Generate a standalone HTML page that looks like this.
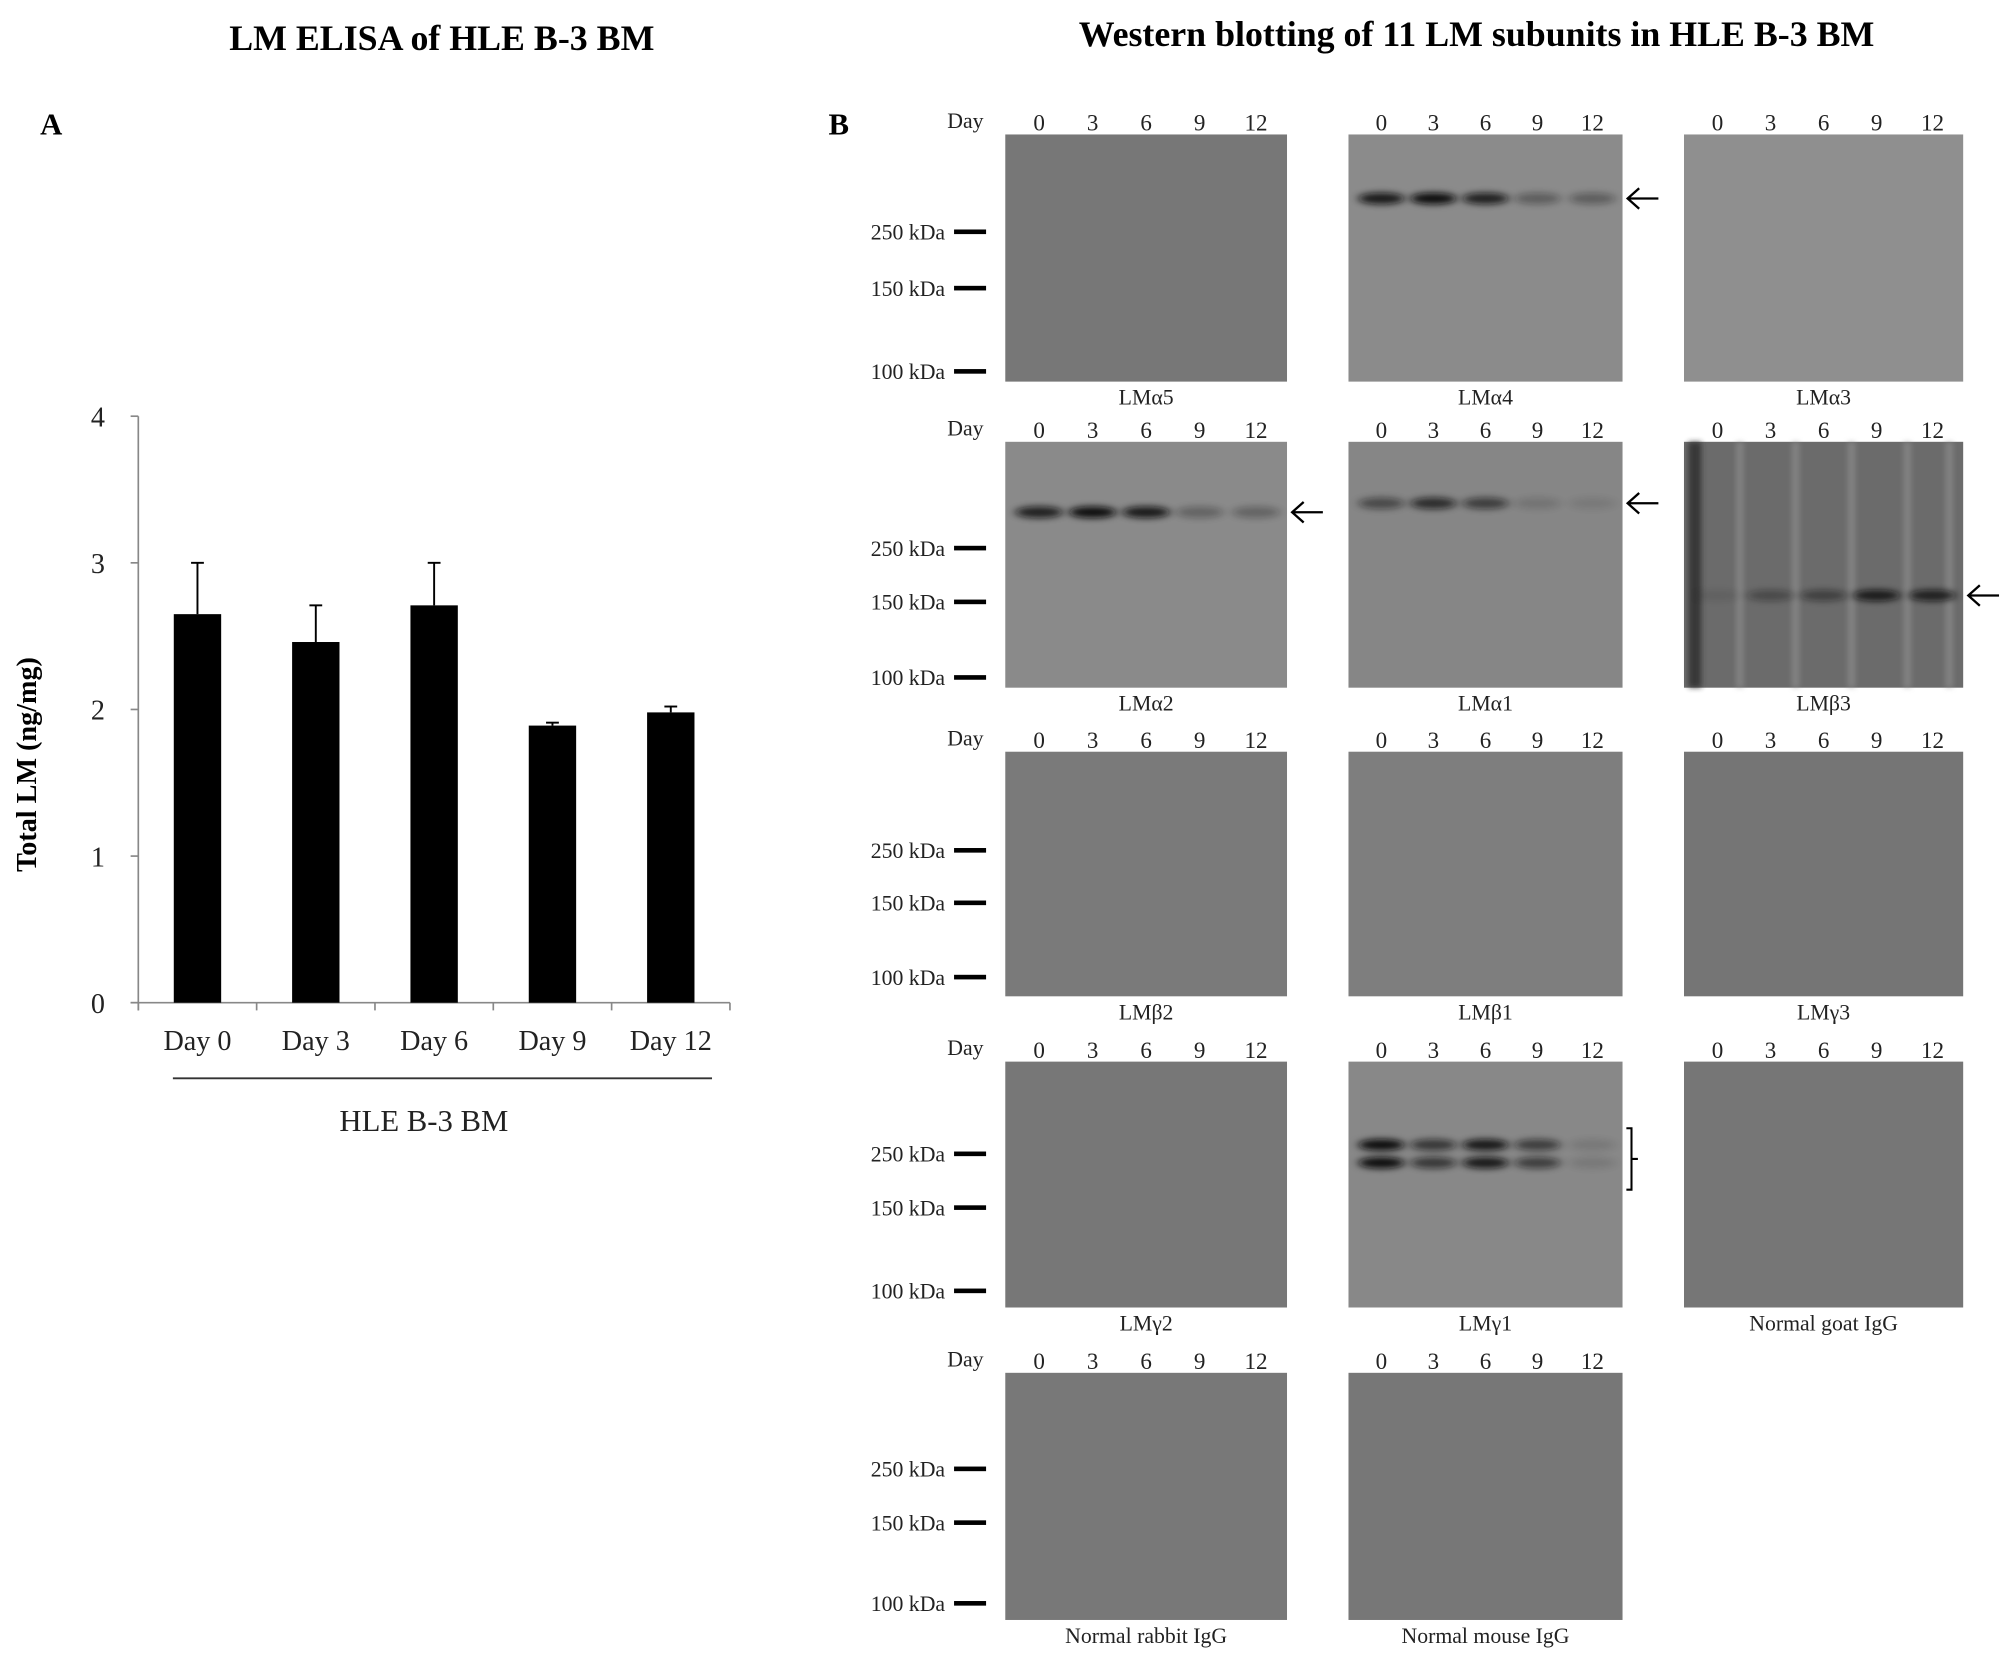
<!DOCTYPE html>
<html><head><meta charset="utf-8"><style>
html,body{margin:0;padding:0;background:#fff;}
svg{display:block;}
text{font-family:"Liberation Serif",serif;}
</style></head><body>
<svg id="fig" width="2008" height="1663" viewBox="0 0 1568 1298.6" xmlns="http://www.w3.org/2000/svg">
<defs>
<filter id="blur" x="-50%" y="-200%" width="200%" height="500%"><feGaussianBlur stdDeviation="3.5 2.5"/></filter>
<filter id="blur2" x="-50%" y="-50%" width="200%" height="200%"><feGaussianBlur stdDeviation="2"/></filter>
</defs>
<rect width="1568" height="1298.6" fill="#fff"/>
<text x="345" y="39" font-size="28" font-weight="bold" text-anchor="middle">LM ELISA of HLE B-3 BM</text>
<text x="1153" y="36" font-size="28" font-weight="bold" text-anchor="middle">Western blotting of 11 LM subunits in HLE B-3 BM</text>
<text x="40" y="105" font-size="24" font-weight="bold" text-anchor="middle">A</text>
<text x="655" y="105" font-size="24" font-weight="bold" text-anchor="middle">B</text>
<g id="chart"></g>
<g id="blots"></g>
</svg>
<script>
const categories = ["Day 0","Day 3","Day 6","Day 9","Day 12"];
const values = [2.65, 2.46, 2.71, 1.89, 1.98];
const errors = [0.35, 0.25, 0.29, 0.02, 0.04];
const yTicks = [0,1,2,3,4];

const NS="http://www.w3.org/2000/svg";
function mk(tag, attrs, parent, txt){const e=document.createElementNS(NS,tag);for(const k in attrs)e.setAttribute(k,attrs[k]);if(txt!==undefined)e.textContent=txt;parent.appendChild(e);return e;}

const X0=108, X1=570, Y0=783, Y4=325;
const yScale=v=>Y0-(v/4)*(Y0-Y4);
const band=(X1-X0)/categories.length;
const xCenter=i=>X0+band*(i+0.5);
const barW=37;
const chart=document.getElementById('chart');
let ax=mk('line',{x1:X0,y1:Y4,x2:X0,y2:Y0+6,stroke:'#888','stroke-width':1.3},chart);


let bx=mk('line',{x1:X0-6,y1:Y0,x2:X1,y2:Y0,stroke:'#888','stroke-width':1.3},chart);


yTicks.forEach(t=>{
  const y=yScale(t);
  const tk=mk('line',{x1:X0-6,y1:y,x2:X0,y2:y,stroke:'#888','stroke-width':1.3},chart);
  
  
  const tl=mk('text',{x:X0-26,y:y+8,'font-size':22,'text-anchor':'end',fill:'#222'},chart,String(t));
  
  
});
for(let i=0;i<=categories.length;i++){
  const x=X0+band*i;
  const tk=mk('line',{x1:x,y1:Y0,x2:x,y2:Y0+6,stroke:'#888','stroke-width':1.3},chart);
  
  
}
categories.forEach((c,i)=>{
  const cx=xCenter(i), top=yScale(values[i]), et=yScale(values[i]+errors[i]);
  const el=mk('line',{x1:cx,y1:top,x2:cx,y2:et,stroke:'#000','stroke-width':1.5},chart);
  
  
  const ec=mk('line',{x1:cx-5,y1:et,x2:cx+5,y2:et,stroke:'#000','stroke-width':1.5},chart);
  
  
  const r=mk('rect',{x:cx-barW/2,y:top,width:barW,height:Y0-top,fill:'#000'},chart);
  
  
  const tl=mk('text',{x:cx,y:Y0+37,'font-size':22,'text-anchor':'middle',fill:'#222'},chart,c);
  
  
});
const gl=mk('line',{x1:135,y1:842,x2:556,y2:842,stroke:'#333','stroke-width':1.5},chart);


const gt=mk('text',{x:331,y:883,'font-size':24,'text-anchor':'middle',fill:'#222'},chart,'HLE B-3 BM');


const yt=mk('text',{x:0,y:0,'font-size':22,'font-weight':'bold','text-anchor':'middle',transform:'translate(28,597) rotate(-90)'},chart,'Total LM (ng/mg)');



const cols=[[785,1005],[1053,1267],[1315,1533]];
const rows=[[105,298],[345,537],[587,778],[829,1021],[1072,1265]];
const markerRel=[[76,120,185],[83,125,184],[77,118,176],[72,114,179],[75,117,180]];
const blots=[
 {r:0,c:0,name:'LMα5',bg:'#777'},
 {r:0,c:1,name:'LMα4',bg:'#8b8b8b',by:[155],lanes:[0.9,1,0.85,0.35,0.35],arrow:1},
 {r:0,c:2,name:'LMα3',bg:'#8f8f8f'},
 {r:1,c:0,name:'LMα2',bg:'#8a8a8a',by:[400],lanes:[0.85,1,0.9,0.3,0.3],arrow:1},
 {r:1,c:1,name:'LMα1',bg:'#868686',by:[393],lanes:[0.5,0.75,0.6,0.15,0.1],arrow:1},
 {r:1,c:2,name:'LMβ3',bg:'#6b6b6b',by:[465],lanes:[0.1,0.35,0.45,0.85,0.8],arrow:1,dark:1},
 {r:2,c:0,name:'LMβ2',bg:'#7a7a7a'},
 {r:2,c:1,name:'LMβ1',bg:'#7e7e7e'},
 {r:2,c:2,name:'LMγ3',bg:'#757575'},
 {r:3,c:0,name:'LMγ2',bg:'#777'},
 {r:3,c:1,name:'LMγ1',bg:'#888',by:[894,908],lanes:[1,0.65,0.9,0.6,0.12],bracket:1},
 {r:3,c:2,name:'Normal goat IgG',bg:'#767676'},
 {r:4,c:0,name:'Normal rabbit IgG',bg:'#787878'},
 {r:4,c:1,name:'Normal mouse IgG',bg:'#777'}
];
const laneLabels=['0','3','6','9','12'];
const laneFrac=[0.12,0.31,0.5,0.69,0.89];
const mk_kda=['250 kDa','150 kDa','100 kDa'];
const B=document.getElementById('blots');
blots.forEach(b=>{
  const [x0,x1]=cols[b.c], [y0,y1]=rows[b.r], w=x1-x0;
  const g=mk('g',{},B);
  
  
  mk('rect',{x:x0,y:y0,width:w,height:y1-y0,fill:b.bg},g);
  if(b.dark){
    [0.03,0.2,0.4,0.6,0.8,0.95].forEach((f,k)=>{
      mk('rect',{x:x0+f*w-3,y:y0,width:k==0?10:6,height:y1-y0,fill:k==0?'#2a2a2a':'#9a9a9a',opacity:k==0?0.8:0.5,filter:'url(#blur2)'},g);
    });
  }
  if(b.by){
    b.by.forEach(by=>{
      b.lanes.forEach((v,i)=>{
        mk('ellipse',{cx:x0+laneFrac[i]*w,cy:by,rx:w*0.085,ry:4.5,fill:'#111',opacity:v,filter:'url(#blur)'},g);
      });
    });
  }
  if(b.arrow){
    const ay=b.by[0], ax2=x1+4;
    mk('path',{d:`M${ax2} ${ay} L${ax2+24} ${ay} M${ax2+9} ${ay-8} L${ax2} ${ay} L${ax2+9} ${ay+8}`,stroke:'#000','stroke-width':1.8,fill:'none'},g);
  }
  if(b.bracket){
    mk('path',{d:`M${x1+3} ${y0+52} L${x1+7} ${y0+52} L${x1+7} ${y0+100} L${x1+3} ${y0+100} M${x1+7} ${y0+76} L${x1+12} ${y0+76}`,stroke:'#000','stroke-width':1.6,fill:'none'},g);
  }
  laneLabels.forEach((l,i)=>{
    const t=mk('text',{x:x0+laneFrac[i]*w,y:y0-3,'font-size':18,'text-anchor':'middle',fill:'#222'},g,l);
    
    
  });
  const cap=mk('text',{x:(x0+x1)/2,y:y1+18,'font-size':17,'text-anchor':'middle',fill:'#222'},g,b.name);
  
  
  if(b.c===0){
    const d=mk('text',{x:x0-17,y:y0-5,'font-size':17,'text-anchor':'end',fill:'#222'},g,'Day');
    
    
    markerRel[b.r].forEach((rel,k)=>{
      const yy=y0+rel;
      mk('rect',{x:745,y:yy-1.8,width:25,height:3.6,fill:'#000'},g);
      const mt=mk('text',{x:738,y:yy+6,'font-size':17,'text-anchor':'end',fill:'#222'},g,mk_kda[k]);
      
      
    });
  }
});
</script>
</body></html>
